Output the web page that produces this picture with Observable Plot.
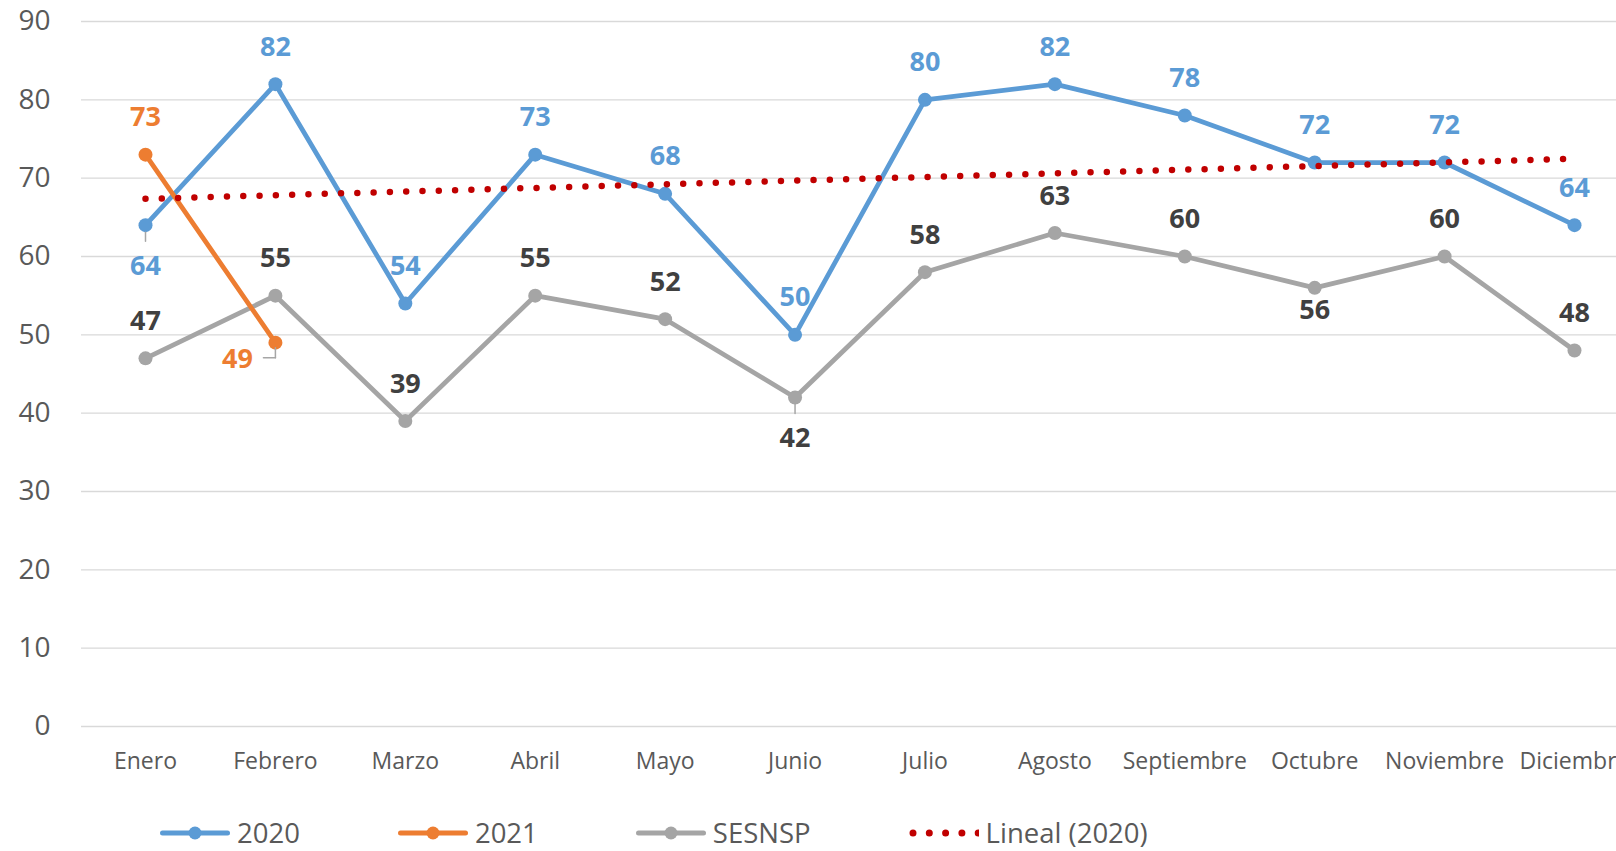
<!DOCTYPE html>
<html>
<head>
<meta charset="utf-8">
<script src="https://cdn.jsdelivr.net/npm/d3@7"></script>
<script src="https://cdn.jsdelivr.net/npm/@observablehq/plot@0.6"></script>
<style>
  html, body { margin: 0; padding: 0; background: #fff; overflow: hidden; }
  #wrap { position: relative; width: 1616px; height: 851px; font-family: "Open Sans", sans-serif; }
  #legend { position: absolute; left: 160px; top: 813px; height: 40px; display: flex; align-items: center; }
  .item { display: flex; align-items: center; margin-right: 98px; }
  .item svg { display: block; margin-right: 7px; }
  .item span { font-size: 27.5px; color: #595959; line-height: 1; }
</style>
</head>
<body>
<div id="wrap">
  <div id="chart"></div>
  <div id="legend"></div>
</div>
<script>
// ---- data ----
const months = ["Enero", "Febrero", "Marzo", "Abril", "Mayo", "Junio", "Julio", "Agosto", "Septiembre", "Octubre", "Noviembre", "Diciembre"];
const values2020 = [64, 82, 54, 73, 68, 50, 80, 82, 78, 72, 72, 64];
const values2021 = [73, 49];
const valuesSESNSP = [47, 55, 39, 55, 52, 42, 58, 63, 60, 56, 60, 48];
const yTicks = [0, 10, 20, 30, 40, 50, 60, 70, 80, 90];
const seriesNames = ["2020", "2021", "SESNSP", "Lineal (2020)"];

// ---- label placement (style) ----
const place2020 = ["belowLeader", "above", "above", "above", "above", "above", "above", "above", "above", "above", "above", "above"];
const place2021 = ["above", "leftBelow"];
const placeSESNSP = ["above", "above", "above", "above", "above", "belowLeader", "above", "above", "above", "below", "above", "above"];
const offsets = {
  above: {dx: 0, dy: -37},
  below: {dx: 0, dy: 23},
  belowLeader: {dx: 0, dy: 41},
  leftBelow: {dx: -38, dy: 17}
};

const colors = {"2020": "#5B9BD5", "2021": "#ED7D31", "SESNSP": "#A5A5A5", "trend": "#C00000"};
const labelColors = {"2020": "#5B9BD5", "2021": "#ED7D31", "SESNSP": "#404040"};

const rows = (vals, series, place) => vals.map((v, i) => ({month: months[i], value: v, series, place: place[i]}));
const d2020 = rows(values2020, "2020", place2020);
const d2021 = rows(values2021, "2021", place2021);
const dSES = rows(valuesSESNSP, "SESNSP", placeSESNSP);
const allLabels = [...d2020, ...d2021, ...dSES];

// linear trend of 2020 (least squares)
const xs = values2020.map((_, i) => i + 1);
const mx = d3.mean(xs), my = d3.mean(values2020);
const slope = d3.sum(xs, (x, i) => (x - mx) * (values2020[i] - my)) / d3.sum(xs, x => (x - mx) ** 2);
const intercept = my - slope * mx;
const trend = months.map((m, i) => ({month: m, value: intercept + slope * (i + 1)}));

// leader lines (vertical/horizontal connectors)
const stemShape = {draw(ctx, l) { ctx.moveTo(0, 0); ctx.lineTo(0, -l); }};
const leaderDown = [d2020[0], dSES[5]];
const leaderL = [d2021[1]];

const font = "Open Sans, sans-serif";
const labelMarks = Object.entries(offsets).flatMap(([key, off]) =>
  Object.keys(labelColors).map(s => Plot.text(allLabels.filter(d => d.place === key && d.series === s), {
    x: "month", y: "value", text: d => String(d.value),
    dx: off.dx, dy: off.dy, lineAnchor: "middle",
    fill: labelColors[s], fontSize: 27, fontWeight: "bold", fontFamily: font
  }))
);

const lineMark = (data, s) => [
  Plot.line(data, {x: "month", y: "value", stroke: colors[s], strokeWidth: 4.75, strokeLinejoin: "round", strokeLinecap: "round"}),
  Plot.dot(data, {x: "month", y: "value", r: 7, fill: colors[s], stroke: "none"})
];

const chart = Plot.plot({
  width: 1616,
  height: 780,
  marginLeft: 81,
  marginRight: 0,
  marginTop: 21,
  marginBottom: 54,
  style: {fontFamily: font, fontSize: "28px", color: "#595959", background: "#fff", overflow: "visible"},
  x: {type: "point", domain: months, range: [145, 1574], padding: 0, round: false},
  y: {domain: [0, 90], ticks: yTicks},
  marks: [
    Plot.gridY({ticks: yTicks, stroke: "#D9D9D9", strokeOpacity: 1, strokeWidth: 1.3}),
    Plot.axisY({ticks: yTicks, tickSize: 0, tickPadding: 31, fontSize: 28, fill: "#595959", label: null}),
    Plot.axisX({tickSize: 0, tickPadding: 26, fontSize: 23, fill: "#595959", label: null}),
    ...lineMark(dSES, "SESNSP"),
    ...lineMark(d2020, "2020"),
    ...lineMark(d2021, "2021"),
    Plot.line(trend, {x: "month", y: "value", stroke: colors.trend, strokeWidth: 6.5, strokeDasharray: "0 16.3", strokeLinecap: "round"}),
    Plot.vector(leaderDown, {x: "month", y: "value", length: 9, rotate: 180, anchor: "start", dy: 7, shape: stemShape, stroke: "#A6A6A6", strokeWidth: 1.5}),
    Plot.vector(leaderL, {x: "month", y: "value", length: 10, rotate: 180, anchor: "start", dy: 5, shape: stemShape, stroke: "#A6A6A6", strokeWidth: 1.5}),
    Plot.vector(leaderL, {x: "month", y: "value", length: 12, rotate: 270, anchor: "start", dy: 15, shape: stemShape, stroke: "#A6A6A6", strokeWidth: 1.5}),
    ...labelMarks
  ]
});
document.getElementById("chart").appendChild(chart);

// ---- legend ----
const legend = document.getElementById("legend");
seriesNames.forEach((name, i) => {
  const item = document.createElement("div");
  item.className = "item";
  let sw;
  if (i < 3) {
    const c = colors[name];
    sw = `<svg width="70" height="20"><line x1="2.5" y1="10" x2="67.5" y2="10" stroke="${c}" stroke-width="5" stroke-linecap="round"/><circle cx="35" cy="10" r="6.5" fill="${c}"/></svg>`;
  } else {
    sw = `<svg width="70" height="20"><line x1="4" y1="10" x2="70" y2="10" stroke="${colors.trend}" stroke-width="7" stroke-dasharray="0 16.3" stroke-linecap="round"/></svg>`;
  }
  item.innerHTML = sw + `<span>${name}</span>`;
  legend.appendChild(item);
});
</script>
</body>
</html>
